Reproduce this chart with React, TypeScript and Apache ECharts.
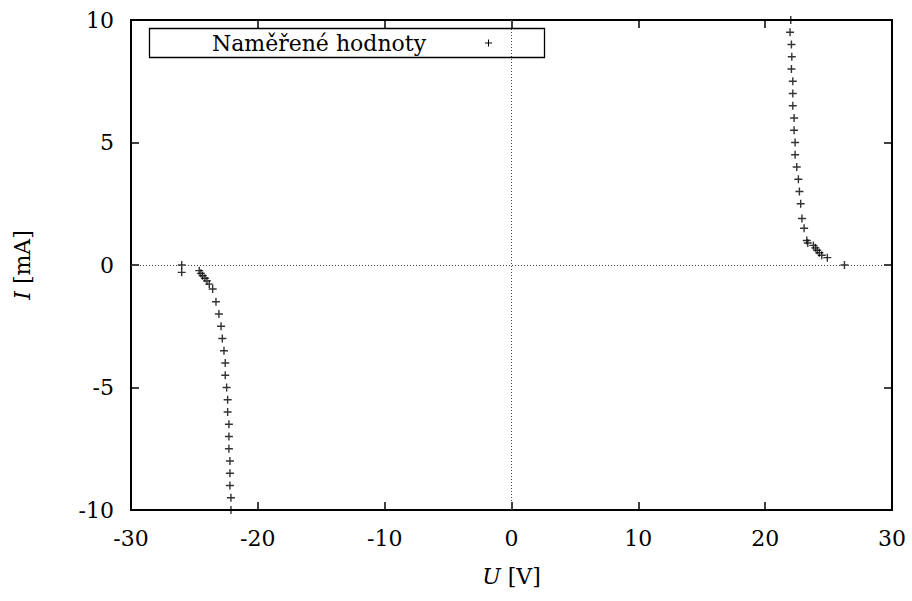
import React, { useEffect, useRef } from "react";
import * as echarts from "echarts";

// Measured values: U [V], I [mA]
const uRight = [22.02, 21.96, 22.07, 22.1, 22.07, 22.18, 22.18, 22.18, 22.28, 22.28, 22.36, 22.36, 22.49, 22.62, 22.7, 22.8, 22.9, 23.07, 23.28, 23.36, 23.8, 23.96, 24.1, 24.27, 24.46, 24.9, 26.25];
const iRight = [10, 9.5, 9, 8.5, 8, 7.5, 7, 6.5, 6, 5.5, 5, 4.5, 4, 3.5, 3, 2.5, 1.9, 1.5, 1.0, 0.9, 0.8, 0.7, 0.6, 0.5, 0.4, 0.3, 0];
const uLeft = [-26.0, -26.0, -24.62, -24.49, -24.35, -24.17, -24.01, -23.83, -23.56, -23.3, -23.07, -22.9, -22.8, -22.67, -22.57, -22.57, -22.46, -22.38, -22.38, -22.28, -22.28, -22.28, -22.2, -22.2, -22.2, -22.12, -22.12];
const iLeft = [0, -0.3, -0.23, -0.34, -0.44, -0.54, -0.65, -0.78, -0.98, -1.5, -2.0, -2.5, -3.0, -3.5, -4.0, -4.5, -5.0, -5.5, -6.0, -6.5, -7.0, -7.5, -8.0, -8.5, -9.0, -9.5, -10];

const seriesName = "Naměřené hodnoty";
const xName = "{i|U} [V]";
const yName = "{i|I} [mA]";

const FONT = "DejaVu Serif";

export default function App() {
  const ref = useRef<HTMLDivElement>(null);
  useEffect(() => {
    if (!ref.current) return;
    const chart = echarts.init(ref.current, null, { renderer: "svg" });
    const data: number[][] = [];
    uLeft.forEach((u, k) => data.push([u, iLeft[k]]));
    uRight.forEach((u, k) => data.push([u, iRight[k]]));

    const tickStyle = { show: true, inside: true, length: 8, lineStyle: { color: "#000", width: 1.5 } };
    const lineOff = { show: false, onZero: false };
    const labelStyle = { color: "#000", fontFamily: FONT, fontSize: 22, margin: 17 };
    const nameStyle = {
      color: "#000",
      fontFamily: FONT,
      fontSize: 22,
      rich: { i: { fontStyle: "italic", fontFamily: FONT, fontSize: 22, color: "#000" } },
    };

    chart.setOption({
      animation: false,
      backgroundColor: "#fff",
      textStyle: { fontFamily: FONT },
      grid: { left: 131, right: 20, top: 20, bottom: 91, show: true, borderColor: "#000", borderWidth: 2, backgroundColor: "transparent" },
      xAxis: [
        {
          type: "value", min: -30, max: 30, interval: 10, position: "bottom",
          axisLine: lineOff, axisTick: tickStyle, splitLine: { show: false },
          axisLabel: labelStyle,
          name: xName, nameLocation: "middle", nameGap: 55, nameTextStyle: nameStyle,
        },
        {
          type: "value", min: -30, max: 30, interval: 10, position: "top",
          axisLine: lineOff, axisTick: tickStyle, splitLine: { show: false },
          axisLabel: { show: false },
        },
      ],
      yAxis: [
        {
          type: "value", min: -10, max: 10, interval: 5, position: "left",
          axisLine: lineOff, axisTick: tickStyle, splitLine: { show: false },
          axisLabel: labelStyle,
          name: yName, nameLocation: "middle", nameGap: 98, nameRotate: 90, nameTextStyle: nameStyle,
        },
        {
          type: "value", min: -10, max: 10, interval: 5, position: "right",
          axisLine: lineOff, axisTick: tickStyle, splitLine: { show: false },
          axisLabel: { show: false },
        },
      ],
      series: [
        {
          type: "scatter",
          name: seriesName,
          data,
          symbol: "path://M0,4 L8,4 M4,0 L4,8",
          symbolSize: 8,
          itemStyle: { color: "#000", borderColor: "#000", borderWidth: 1.4 },
          markLine: {
            silent: true,
            symbol: "none",
            label: { show: false },
            lineStyle: { color: "#444", width: 1, type: [1, 2] },
            data: [{ xAxis: 0 }, { yAxis: 0 }],
          },
          z: 3,
        },
      ],
      graphic: [
        {
          type: "rect",
          shape: { x: 149.5, y: 28.5, width: 395, height: 29 },
          style: { fill: "none", stroke: "#000", lineWidth: 1.3 },
          z: 10,
        },
        {
          type: "text",
          x: 319, y: 43,
          style: { text: seriesName, fontFamily: FONT, fontSize: 22, fill: "#000", align: "center", verticalAlign: "middle" },
          z: 10,
        },
        { type: "line", shape: { x1: 485, y1: 43, x2: 492, y2: 43 }, style: { stroke: "#000", lineWidth: 1 }, z: 10 },
        { type: "line", shape: { x1: 488.5, y1: 39.5, x2: 488.5, y2: 46.5 }, style: { stroke: "#000", lineWidth: 1 }, z: 10 },
      ],
    });
    return () => chart.dispose();
  }, []);
  return <div ref={ref} style={{ width: 912, height: 601, position: "absolute", left: 0, top: 0 }} />;
}
